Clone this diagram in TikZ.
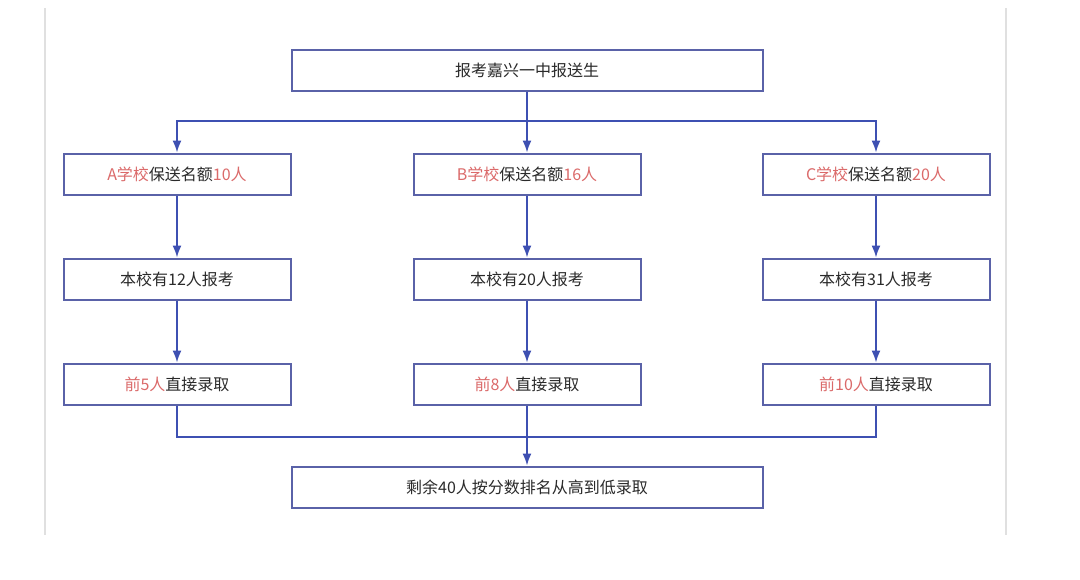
\documentclass[tikz,border=0pt]{standalone}
\usepackage{fontspec}
\setmainfont{Noto Sans CJK SC}
\usetikzlibrary{arrows.meta}
\definecolor{boxline}{HTML}{5A62A8}
\definecolor{linkline}{HTML}{3E50B2}
\definecolor{hilite}{HTML}{DB6A6A}
\definecolor{textgray}{HTML}{2A2A2A}
\tikzset{box/.style = {draw=boxline, line width=2pt, fill=white, minimum height=41pt,
                       text=textgray, font=\fontsize{16}{19}\selectfont},
         widebox/.style = {box, minimum width=471pt},
         schoolbox/.style = {box, minimum width=227pt},
         link/.style = {draw=linkline, line width=1.6pt},
         arr/.style = {link, -{Latex[length=12pt,width=9pt]}}}
\newcommand{\hl}[1]{\textcolor{hilite}{#1}}

\begin{document}
\begin{tikzpicture}[x=1pt, y=-1pt]
        \useasboundingbox (0,0) rectangle (1080,579);
        \draw[black!12, line width=1.5pt] (45,8) -- (45,535) (1006,8) -- (1006,535);
        \node[widebox] (top) at (527,70) {报考嘉兴一中报送生};
        % quota of each school
        \node[schoolbox] (Aq) at (177,174) {\hl{A学校}保送名额\hl{10人}};
        \node[schoolbox] (Bq) at (527,174) {\hl{B学校}保送名额\hl{16人}};
        \node[schoolbox] (Cq) at (876,174) {\hl{C学校}保送名额\hl{20人}};
        % applicants
        \node[schoolbox] (Aa) at (177,279) {本校有12人报考};
        \node[schoolbox] (Ba) at (527,279) {本校有20人报考};
        \node[schoolbox] (Ca) at (876,279) {本校有31人报考};
        % direct admission
        \node[schoolbox] (Ad) at (177,384) {\hl{前5人}直接录取};
        \node[schoolbox] (Bd) at (527,384) {\hl{前8人}直接录取};
        \node[schoolbox] (Cd) at (876,384) {\hl{前10人}直接录取};
        \node[widebox] (rest) at (527,487) {剩余40人按分数排名从高到低录取};
        \coordinate (split) at (top.south |- 0,121);
        \coordinate (merge) at (rest.north |- 0,437);
        \draw[arr] (top.south) -- (split) -| (Aq.north);
        \draw[arr] (top.south) -- (split) -| (Cq.north);
        \draw[arr] (top.south) -- (Bq.north);
        \foreach \s in {A,B,C} {
          \draw[arr] (\s q) -- (\s a);
          \draw[arr] (\s a) -- (\s d);
        }
        \draw[link] (Ad.south) |- (merge) -| (Cd.south);
        \draw[link] (Bd.south) -- (merge);
        \draw[arr] (merge) -- (rest.north);
      \end{tikzpicture}
\end{document}
